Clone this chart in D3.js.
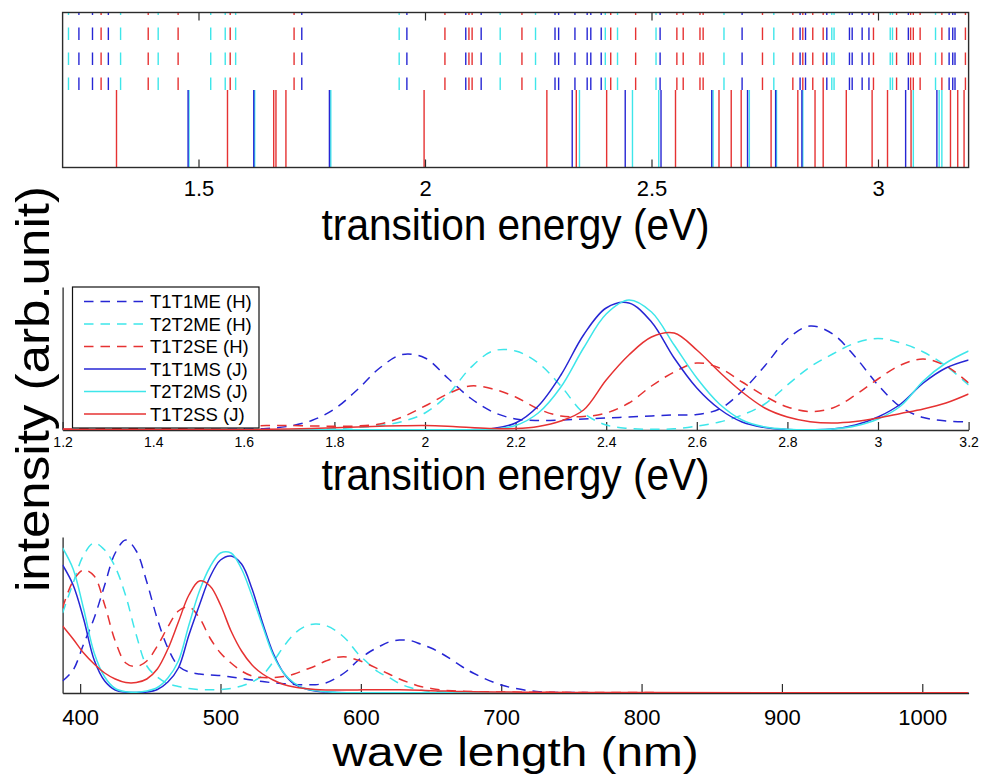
<!DOCTYPE html>
<html lang="en">
<head>
<meta charset="utf-8">
<title>Transition spectra</title>
<script src="https://cdn.jsdelivr.net/npm/d3@7/dist/d3.min.js"></script>
<style>
  html, body { margin: 0; padding: 0; background: #fff; }
  svg { display: block; }
</style>
</head>
<body>
<svg id="chart" width="982" height="774"></svg>
<script>
// ---------------- series (legend order) ----------------
const seriesNames = ["T1T1ME (H)", "T2T2ME (H)", "T1T2SE (H)", "T1T1MS (J)", "T2T2MS (J)", "T1T2SS (J)"];

// ---------------- stick spectra: transition energies (eV) ----------------
const sticksT1T1ME = [1.236, 1.266, 1.301, 1.728, 1.960, 2.090, 2.124, 2.287, 2.295, 2.331, 2.358, 2.366, 2.389, 2.519,
  2.700, 2.828, 2.840, 2.887, 2.937, 2.943, 2.965, 2.980, 3.067, 3.157, 3.165, 3.170];
const sticksT2T2ME = [1.213, 1.328, 1.411, 1.527, 1.559, 1.582, 1.943, 2.166, 2.244, 2.398, 2.425, 2.510, 2.660, 2.770,
  2.898, 2.903, 3.027, 3.032, 3.127];
const sticksT1T2SE = [1.285, 1.389, 1.455, 1.570, 1.711, 2.044, 2.097, 2.104, 2.214, 2.410, 2.465, 2.556, 2.570, 2.607,
  2.614, 2.745, 2.812, 2.834, 2.856, 2.879, 2.990, 3.041, 3.072, 3.078, 3.093, 3.141, 3.193];
const sticksT1T1MS = [1.477, 1.622, 1.789, 2.325, 2.442, 2.521, 2.633, 2.712, 2.774, 2.832, 3.061, 3.130];
const sticksT2T2MS = [1.479, 1.624, 1.792, 2.341, 2.458, 2.516, 2.636, 2.716, 2.776, 2.834, 3.078, 3.135, 3.141];
const sticksT1T2SS = [1.319, 1.564, 1.666, 1.671, 1.693, 1.998, 2.269, 2.334, 2.401, 2.553, 2.649, 2.676, 2.698, 2.764,
  2.823, 2.861, 2.879, 2.930, 2.987, 3.021, 3.073, 3.160, 3.176, 3.190];

// ---------------- broadened spectra vs energy (arb. units) ----------------
const energyGrid = [1.20, 1.25, 1.30, 1.35, 1.40, 1.45, 1.50, 1.55, 1.60, 1.65, 1.70, 1.75, 1.80, 1.85, 1.90, 1.95,
  2.00, 2.05, 2.10, 2.15, 2.20, 2.25, 2.30, 2.35, 2.40, 2.45, 2.50, 2.55, 2.60, 2.65, 2.70, 2.75, 2.80, 2.85, 2.90,
  2.95, 3.00, 3.05, 3.10, 3.15, 3.20];
const energyT1T1ME = [0.005, 0.005, 0.005, 0.005, 0.005, 0.005, 0.005, 0.006, 0.008, 0.015, 0.038, 0.095, 0.21, 0.40,
  0.62, 0.755, 0.72, 0.52, 0.32, 0.18, 0.11, 0.095, 0.10, 0.11, 0.12, 0.13, 0.14, 0.15, 0.155, 0.21, 0.39, 0.64, 0.91,
  1.04, 0.96, 0.73, 0.45, 0.23, 0.125, 0.09, 0.083];
const energyT2T2ME = [0.003, 0.003, 0.003, 0.003, 0.003, 0.003, 0.003, 0.003, 0.003, 0.003, 0.003, 0.008, 0.015, 0.025,
  0.045, 0.085, 0.17, 0.35, 0.62, 0.79, 0.79, 0.67, 0.44, 0.17, 0.05, 0.015, 0.008, 0.012, 0.038, 0.08, 0.15, 0.26,
  0.45, 0.63, 0.76, 0.87, 0.915, 0.87, 0.78, 0.64, 0.45];
const energyT1T2SE = [0.01, 0.01, 0.012, 0.013, 0.015, 0.018, 0.02, 0.025, 0.035, 0.045, 0.045, 0.04, 0.038, 0.04, 0.06,
  0.13, 0.24, 0.36, 0.44, 0.41, 0.33, 0.21, 0.14, 0.135, 0.17, 0.27, 0.44, 0.58, 0.67, 0.62, 0.48, 0.34, 0.23, 0.185,
  0.22, 0.35, 0.51, 0.65, 0.71, 0.64, 0.47];
const energyT1T1MS = [0.003, 0.003, 0.003, 0.003, 0.003, 0.003, 0.003, 0.003, 0.003, 0.003, 0.003, 0.003, 0.003, 0.003,
  0.003, 0.003, 0.003, 0.003, 0.003, 0.015, 0.07, 0.24, 0.55, 0.95, 1.22, 1.27, 1.08, 0.72, 0.42, 0.21, 0.08, 0.025,
  0.005, 0.003, 0.01, 0.05, 0.13, 0.26, 0.47, 0.62, 0.70];
const energyT2T2MS = [0.003, 0.003, 0.003, 0.003, 0.003, 0.003, 0.003, 0.003, 0.003, 0.003, 0.003, 0.003, 0.003, 0.003,
  0.003, 0.003, 0.003, 0.003, 0.003, 0.01, 0.045, 0.17, 0.43, 0.82, 1.16, 1.30, 1.18, 0.85, 0.52, 0.26, 0.10, 0.03,
  0.008, 0.003, 0.01, 0.04, 0.11, 0.24, 0.49, 0.67, 0.79];
const energyT1T2SS = [0.005, 0.005, 0.005, 0.005, 0.005, 0.005, 0.005, 0.005, 0.005, 0.007, 0.01, 0.015, 0.022, 0.03,
  0.038, 0.043, 0.045, 0.038, 0.025, 0.015, 0.015, 0.035, 0.09, 0.20, 0.50, 0.75, 0.93, 0.97, 0.80, 0.58, 0.38, 0.22,
  0.13, 0.083, 0.07, 0.085, 0.12, 0.165, 0.21, 0.27, 0.36];

// ---------------- broadened spectra vs wavelength (arb. units) ----------------
const wavelengthGrid = [387.5, 395, 402.5, 410, 417.5, 425, 432.5, 440, 447.5, 455, 462.5, 470, 477.5, 485, 492.5, 500,
  507.5, 515, 522.5, 530, 537.5, 545, 552.5, 560, 567.5, 575, 582.5, 590, 597.5, 605, 612.5, 620, 627.5, 635, 642.5,
  650, 657.5, 665, 672.5, 680, 700, 725, 750, 800, 900, 1033];
const wavelengthT1T1ME = [0.12, 0.23, 0.49, 0.75, 1.08, 1.40, 1.53, 1.42, 1.11, 0.74, 0.45, 0.27, 0.21, 0.19, 0.18,
  0.175, 0.16, 0.145, 0.13, 0.115, 0.102, 0.093, 0.086, 0.083, 0.083, 0.10, 0.15, 0.22, 0.32, 0.40, 0.46, 0.51, 0.53,
  0.525, 0.49, 0.45, 0.395, 0.33, 0.26, 0.20, 0.08, 0.015, 0.005, 0.003, 0.002, 0.001];
const wavelengthT2T2ME = [0.80, 1.10, 1.38, 1.50, 1.43, 1.26, 0.97, 0.58, 0.27, 0.16, 0.095, 0.065, 0.045, 0.035, 0.033,
  0.035, 0.045, 0.07, 0.11, 0.18, 0.31, 0.465, 0.59, 0.665, 0.69, 0.675, 0.62, 0.53, 0.40, 0.30, 0.21, 0.155, 0.095,
  0.055, 0.03, 0.017, 0.012, 0.009, 0.007, 0.005, 0.003, 0.002, 0.002, 0.002, 0.002, 0.002];
const wavelengthT1T2SE = [0.85, 1.12, 1.23, 1.17, 0.88, 0.52, 0.30, 0.265, 0.32, 0.47, 0.66, 0.82, 0.86, 0.75, 0.55,
  0.40, 0.30, 0.22, 0.17, 0.155, 0.155, 0.165, 0.19, 0.23, 0.27, 0.32, 0.355, 0.36, 0.33, 0.29, 0.24, 0.19, 0.14, 0.10,
  0.065, 0.045, 0.03, 0.022, 0.017, 0.014, 0.01, 0.008, 0.006, 0.004, 0.003, 0.002];
const wavelengthT1T1MS = [1.28, 1.08, 0.74, 0.33, 0.12, 0.03, 0.008, 0.005, 0.01, 0.035, 0.11, 0.25, 0.58, 0.88, 1.16,
  1.33, 1.37, 1.29, 1.04, 0.70, 0.40, 0.20, 0.09, 0.045, 0.02, 0.01, 0.005, 0.003, 0.003, 0.003, 0.003, 0.003, 0.003,
  0.003, 0.003, 0.003, 0.003, 0.003, 0.003, 0.003, 0.003, 0.003, 0.003, 0.003, 0.003, 0.003];
const wavelengthT2T2MS = [1.45, 1.24, 0.84, 0.40, 0.16, 0.045, 0.012, 0.008, 0.02, 0.055, 0.15, 0.32, 0.68, 1.02, 1.26,
  1.40, 1.40, 1.24, 0.97, 0.67, 0.38, 0.20, 0.10, 0.045, 0.025, 0.012, 0.006, 0.003, 0.003, 0.003, 0.003, 0.003, 0.003,
  0.003, 0.003, 0.003, 0.003, 0.003, 0.003, 0.003, 0.003, 0.003, 0.003, 0.003, 0.003, 0.003];
const wavelengthT1T2SS = [0.67, 0.54, 0.40, 0.29, 0.20, 0.14, 0.105, 0.105, 0.14, 0.24, 0.44, 0.71, 0.98, 1.12, 1.07,
  0.88, 0.62, 0.42, 0.28, 0.19, 0.13, 0.085, 0.06, 0.045, 0.035, 0.03, 0.029, 0.03, 0.031, 0.032, 0.033, 0.033, 0.032,
  0.03, 0.027, 0.023, 0.02, 0.017, 0.015, 0.013, 0.01, 0.008, 0.006, 0.004, 0.003, 0.002];

// ---------------- axis ticks ----------------
const stickTicks = [1.5, 2, 2.5, 3];
const energyTicks = [1.2, 1.4, 1.6, 1.8, 2, 2.2, 2.4, 2.6, 2.8, 3, 3.2];
const wavelengthTicks = [400, 500, 600, 700, 800, 900, 1000];

// ---------------- styles ----------------
const BLUE = "#2626d4", CYAN = "#3ee6ea", RED = "#e63232", AXIS = "#2b2b2b";
const FONT = '"Liberation Sans", Arial, Helvetica, sans-serif';
const DASH = "9.5,7";
const seriesStyle = [
  { color: BLUE, dash: DASH }, { color: CYAN, dash: DASH }, { color: RED, dash: DASH },
  { color: BLUE, dash: null }, { color: CYAN, dash: null }, { color: RED, dash: null }
];

const stickSets = [sticksT1T1ME, sticksT2T2ME, sticksT1T2SE, sticksT1T1MS, sticksT2T2MS, sticksT1T2SS];
const energySets = [energyT1T1ME, energyT2T2ME, energyT1T2SE, energyT1T1MS, energyT2T2MS, energyT1T2SS];
const wavelengthSets = [wavelengthT1T1ME, wavelengthT2T2ME, wavelengthT1T2SE, wavelengthT1T1MS, wavelengthT2T2MS, wavelengthT1T2SS];

const series = seriesNames.map((name, i) => ({
  name,
  aggregate: name.endsWith("(H)") ? "H" : "J",
  sticks: stickSets[i],
  energy: energyGrid.map((e, k) => ({ x: e, y: energySets[i][k] })),
  wavelength: wavelengthGrid.map((w, k) => ({ x: w, y: wavelengthSets[i][k] })),
  color: seriesStyle[i].color,
  dash: seriesStyle[i].dash
}));

// ---------------- layout ----------------
const svg = d3.select("#chart").style("font-family", FONT);
const left = 62.6, right = 968.6;

const xEnergy = d3.scaleLinear().domain([1.2, 3.2]).range([left, right]);
const xWave = d3.scaleLinear().domain([387.5, 1033]).range([left, right]);

const stickPanel = { top: 12.5, bottom: 167.5 };
const energyPanel = { top: 287, bottom: 430 };
const wavePanel = { top: 537, bottom: 693 };

const yStick = d3.scaleLinear().domain([0, 2]).range([stickPanel.bottom, stickPanel.top]);
const yEnergy = d3.scaleLinear().domain([0, 1.43]).range([energyPanel.bottom, energyPanel.top]);
const yWave = d3.scaleLinear().domain([0, 1.56]).range([wavePanel.bottom, wavePanel.top]);

const defs = svg.append("defs");
function clip(id, p) {
  defs.append("clipPath").attr("id", id).append("rect")
    .attr("x", left).attr("y", p.top - 2).attr("width", right - left).attr("height", p.bottom - p.top + 2);
}
clip("clip-stick", stickPanel);
clip("clip-energy", energyPanel);
clip("clip-wave", wavePanel);

function styleAxis(g, fontSize) {
  g.selectAll(".domain").attr("stroke", AXIS).attr("stroke-width", 1.3);
  g.selectAll(".tick line").attr("stroke", AXIS).attr("stroke-width", 1.2);
  g.selectAll(".tick text").attr("fill", "#000").style("font-size", fontSize + "px").style("font-family", FONT);
}
const fmt = d3.format("~g");

// ================= Panel 1: stick spectrum =================
const stickG = svg.append("g").attr("clip-path", "url(#clip-stick)");
// draw order: cyan, red, blue so the darker sticks remain visible
const stickOrder = [1, 4, 2, 5, 0, 3];
stickOrder.forEach(i => {
  const s = series[i];
  const lo = s.aggregate === "J" ? 0 : 1;
  const hi = s.aggregate === "J" ? 1 : 2;
  stickG.append("g").selectAll("line").data(s.sticks).join("line")
    .attr("x1", d => xEnergy(d)).attr("x2", d => xEnergy(d))
    .attr("y1", yStick(lo)).attr("y2", yStick(hi))
    .attr("stroke", s.color).attr("stroke-width", 1.4)
    .attr("stroke-dasharray", s.aggregate === "H" ? "12.5,12.5" : null);
});

svg.append("rect")
  .attr("x", left).attr("y", stickPanel.top)
  .attr("width", right - left).attr("height", stickPanel.bottom - stickPanel.top)
  .attr("fill", "none").attr("stroke", AXIS).attr("stroke-width", 1.4);

const stickAxisB = svg.append("g").attr("transform", `translate(0,${stickPanel.bottom})`)
  .call(d3.axisBottom(xEnergy).tickValues(stickTicks).tickFormat(fmt).tickSizeInner(-8).tickSizeOuter(0).tickPadding(13));
stickAxisB.select(".domain").remove();
styleAxis(stickAxisB, 22);

const stickAxisT = svg.append("g").attr("transform", `translate(0,${stickPanel.top})`)
  .call(d3.axisTop(xEnergy).tickValues(stickTicks).tickFormat("").tickSizeInner(-8).tickSizeOuter(0));
stickAxisT.select(".domain").remove();
styleAxis(stickAxisT, 22);

// ================= Panel 2: spectra vs energy =================
const energyAxisB = svg.append("g").attr("transform", `translate(0,${energyPanel.bottom})`)
  .call(d3.axisBottom(xEnergy).tickValues(energyTicks).tickFormat(fmt).tickSizeInner(-8).tickSizeOuter(0).tickPadding(7));
styleAxis(energyAxisB, 14);
const energyAxisL = svg.append("g").attr("transform", `translate(${left},0)`)
  .call(d3.axisLeft(yEnergy).tickValues([]).tickSizeOuter(0));
styleAxis(energyAxisL, 14);

const lineEnergy = d3.line().x(d => xEnergy(d.x)).y(d => yEnergy(d.y)).curve(d3.curveCatmullRom.alpha(0.5));
const energyG = svg.append("g").attr("clip-path", "url(#clip-energy)");
energyG.selectAll("path").data(series).join("path")
  .attr("d", d => lineEnergy(d.energy))
  .attr("fill", "none").attr("stroke", d => d.color).attr("stroke-width", 1.5)
  .attr("stroke-dasharray", d => d.dash);

// legend
const legend = svg.append("g");
legend.append("rect").attr("x", 72.5).attr("y", 287).attr("width", 186.5).attr("height", 141)
  .attr("fill", "#fff").attr("stroke", "#111").attr("stroke-width", 1.2);
const legendRows = legend.selectAll("g.row").data(series).join("g").attr("class", "row")
  .attr("transform", (d, i) => `translate(0,${301.5 + i * 22.5})`);
legendRows.append("line").attr("x1", 84).attr("x2", 146).attr("y1", 0).attr("y2", 0)
  .attr("stroke", d => d.color).attr("stroke-width", 1.5).attr("stroke-dasharray", d => d.dash);
legendRows.append("text").attr("x", 150).attr("y", 0).attr("dy", "0.36em")
  .style("font-size", "18.5px").attr("fill", "#000").text(d => d.name);

// ================= Panel 3: spectra vs wavelength =================
const waveAxisB = svg.append("g").attr("transform", `translate(0,${wavePanel.bottom})`)
  .call(d3.axisBottom(xWave).tickValues(wavelengthTicks).tickFormat(fmt).tickSizeInner(-9).tickSizeOuter(0).tickPadding(16));
styleAxis(waveAxisB, 22);
const waveAxisL = svg.append("g").attr("transform", `translate(${left},0)`)
  .call(d3.axisLeft(yWave).tickValues([]).tickSizeOuter(0));
styleAxis(waveAxisL, 22);

const lineWave = d3.line().x(d => xWave(d.x)).y(d => yWave(d.y)).curve(d3.curveCatmullRom.alpha(0.5));
const waveG = svg.append("g").attr("clip-path", "url(#clip-wave)");
waveG.selectAll("path").data(series).join("path")
  .attr("d", d => lineWave(d.wavelength))
  .attr("fill", "none").attr("stroke", d => d.color).attr("stroke-width", 1.5)
  .attr("stroke-dasharray", d => d.dash);

// ================= titles =================
const midX = (left + right) / 2;
function title(txt, x, y, size, len, rotate) {
  const t = svg.append("text")
    .attr("text-anchor", "middle").style("font-size", size + "px").attr("fill", "#000")
    .attr("textLength", len).attr("lengthAdjust", "spacingAndGlyphs")
    .text(txt);
  if (rotate) t.attr("transform", `translate(${x},${y}) rotate(-90)`);
  else t.attr("x", x).attr("y", y);
  return t;
}
title("transition energy (eV)", midX, 240, 44, 388, false);
title("transition energy (eV)", midX, 490, 44, 388, false);
title("wave length (nm)", midX, 766, 40, 366, false);
title("intensity (arb.unit)", 49, 389, 46, 406, true);
</script>
</body>
</html>
